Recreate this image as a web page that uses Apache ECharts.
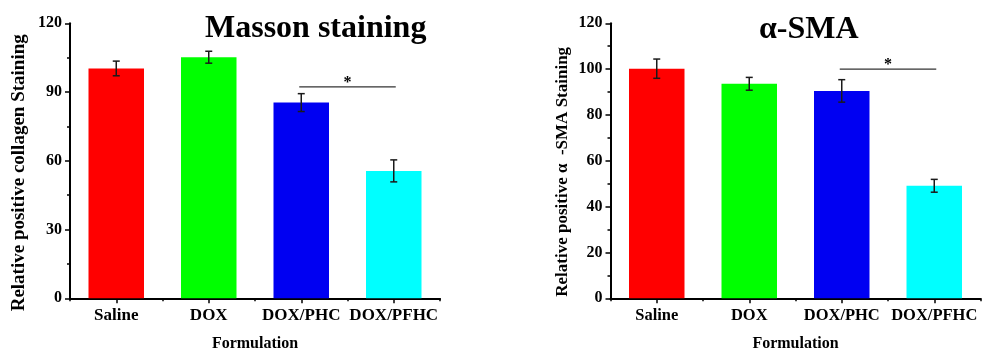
<!DOCTYPE html>
<html>
<head>
<meta charset="utf-8">
<script src="https://cdn.jsdelivr.net/npm/echarts@6/dist/echarts.min.js"></script>
<style>html,body{margin:0;padding:0;background:#fff;}#c{width:982px;height:358px;}</style>
</head>
<body>
<div id="c"></div>
<script>
const categories = ['Saline', 'DOX', 'DOX/PHC', 'DOX/PFHC'];
const barColors = ['#ff0000', '#00ff00', '#0000f2', '#00ffff'];
const massonValues = [100.3, 105.2, 85.4, 55.6];
const massonErrors = [3.2, 2.6, 3.9, 4.8];
const smaValues = [100.2, 93.6, 90.5, 49.1];
const smaErrors = [4.2, 2.8, 4.9, 2.8];
const massonSig = [2, 3, 92.3];
const smaSig = [2, 3, 100];
const massonTickInterval = 30;
const smaTickInterval = 20;
const yMax = 120;

const FONT = '"Liberation Serif", "Times New Roman", serif';

function xAxesFor(grid, labelSize, nameSize) {
  return [
    {
      type: 'category', gridIndex: grid, data: categories, position: 'bottom',
      axisLine: { show: true, lineStyle: { color: '#000', width: 2 } },
      axisTick: { show: true, alignWithLabel: true, interval: 0, length: 5, lineStyle: { color: '#000', width: 1.5 } },
      axisLabel: { interval: 0, color: '#000', fontFamily: FONT, fontWeight: 'bold', fontSize: labelSize, margin: 9 },
      name: 'Formulation', nameLocation: 'middle', nameGap: 38,
      nameTextStyle: { color: '#000', fontFamily: FONT, fontWeight: 'bold', fontSize: nameSize }
    },
    {
      type: 'category', gridIndex: grid, data: categories, position: 'bottom',
      axisLine: { show: false },
      axisTick: { show: true, interval: 0, length: 3, lineStyle: { color: '#000', width: 1.5 } },
      axisLabel: { show: false }
    }
  ];
}

function yAxisFor(grid, interval, name, nameSize, nameGap, pad) {
  return {
    type: 'value', gridIndex: grid, min: 0, max: yMax, interval: interval,
    axisLine: { show: true, lineStyle: { color: '#000', width: 2 } },
    axisTick: { show: true, length: 5, lineStyle: { color: '#000', width: 1.5 } },
    minorTick: { show: true, splitNumber: 2, length: 3, lineStyle: { color: '#000', width: 1.5 } },
    splitLine: { show: false },
    axisLabel: { color: '#000', fontFamily: FONT, fontWeight: 'bold', fontSize: 16, margin: 8 },
    name: name, nameLocation: 'middle', nameGap: nameGap,
    nameTextStyle: { color: '#000', fontFamily: FONT, fontWeight: 'bold', fontSize: nameSize, padding: pad }
  };
}

function errorSeries(xi, yi, values, errors) {
  return {
    type: 'custom', xAxisIndex: xi, yAxisIndex: yi, z: 5,
    data: values.map((v, i) => [i, v, errors[i]]),
    renderItem: function (params, api) {
      const x = api.value(0), v = api.value(1), e = api.value(2);
      const top = api.coord([x, v + e]);
      const bot = api.coord([x, v - e]);
      const w = 3.5;
      const st = { stroke: '#1a1a1a', lineWidth: 1.5 };
      return {
        type: 'group', children: [
          { type: 'line', shape: { x1: top[0], y1: top[1], x2: bot[0], y2: bot[1] }, style: st },
          { type: 'line', shape: { x1: top[0] - w, y1: top[1], x2: top[0] + w, y2: top[1] }, style: st },
          { type: 'line', shape: { x1: bot[0] - w, y1: bot[1], x2: bot[0] + w, y2: bot[1] }, style: st }
        ]
      };
    }
  };
}

function sigSeries(xi, yi, sig) {
  return {
    type: 'custom', xAxisIndex: xi, yAxisIndex: yi, z: 5,
    data: [sig],
    renderItem: function (params, api) {
      const y = api.value(2);
      const p1 = api.coord([api.value(0), y]);
      const p2 = api.coord([api.value(1), y]);
      return {
        type: 'group', children: [
          { type: 'line', shape: { x1: p1[0] - 2, y1: p1[1], x2: p2[0] + 2, y2: p2[1] }, style: { stroke: '#333', lineWidth: 1.2 } },
          { type: 'text', x: (p1[0] + p2[0]) / 2, y: p1[1] + 4,
            style: { text: '*', fill: '#000', font: 'bold 16px ' + FONT, align: 'center', verticalAlign: 'bottom' } }
        ]
      };
    }
  };
}

function barSeries(xi, yi, values) {
  return {
    type: 'bar', xAxisIndex: xi, yAxisIndex: yi, barWidth: '60%',
    data: values.map((v, i) => ({ value: v, itemStyle: { color: barColors[i] } }))
  };
}

const chart = echarts.init(document.getElementById('c'), null, { renderer: 'canvas' });
chart.setOption({
  animation: false,
  backgroundColor: '#fff',
  title: [
    { text: 'Masson staining', left: 205, top: 13, padding: 0,
      textStyle: { fontFamily: FONT, fontWeight: 'bold', fontSize: 32, color: '#000' } },
    { text: 'α-SMA', left: 759, top: 14, padding: 0,
      textStyle: { fontFamily: FONT, fontWeight: 'bold', fontSize: 32, color: '#000' } }
  ],
  grid: [
    { left: 70, top: 23.3, width: 370, height: 275 },
    { left: 610.5, top: 23.3, width: 370, height: 275 }
  ],
  xAxis: xAxesFor(0, 17, 16).concat(xAxesFor(1, 16.5, 16)),
  yAxis: [
    yAxisFor(0, massonTickInterval, 'Relative positive collagen Staining', 19, 41, [0, 24, 0, 0]),
    yAxisFor(1, smaTickInterval, 'Relative positive α  -SMA Staining', 17, 39, [0, 22, 0, 0])
  ],
  series: [
    barSeries(0, 0, massonValues),
    errorSeries(0, 0, massonValues, massonErrors),
    sigSeries(0, 0, massonSig),
    barSeries(2, 1, smaValues),
    errorSeries(2, 1, smaValues, smaErrors),
    sigSeries(2, 1, smaSig)
  ]
});
</script>
</body>
</html>
